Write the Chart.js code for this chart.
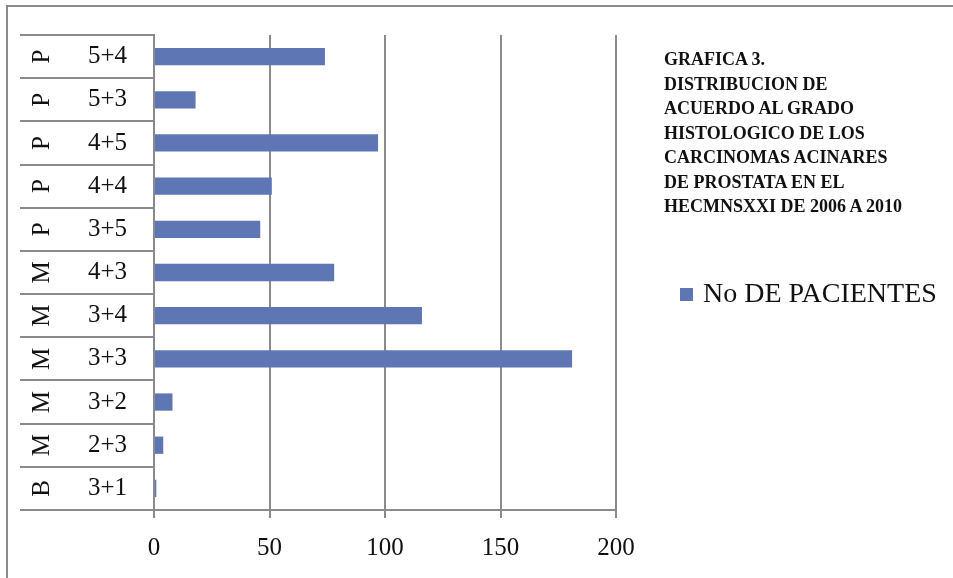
<!DOCTYPE html>
<html>
<head>
<meta charset="utf-8">
<script src="https://cdn.jsdelivr.net/npm/chart.js@4"></script>
<style>
    body { margin: 0; background: #fff; }
    #wrap { position: relative; width: 953px; height: 578px; overflow: hidden; }
    #frame {
        position: absolute; left: 6px; top: 5px; width: 960px; height: 600px;
        border-top: 2px solid #8a8a8a; border-left: 2px solid #8a8a8a;
    }
    #chart { position: absolute; left: 0; top: 0; }
    #title {
        position: absolute; left: 664px; top: 47px;
        font-family: 'Liberation Serif', serif; font-weight: bold; font-size: 18px;
        line-height: 24.5px; color: #111;
    }
    #legend {
        position: absolute; left: 680px; top: 277px;
        font-family: 'Liberation Serif', serif; font-size: 28px; color: #111;
        white-space: nowrap;
    }
    #legend .box {
        display: inline-block; width: 13px; height: 13px; background: #5e76b4;
        margin-right: 10px; vertical-align: 1px;
    }
</style>
</head>
<body>
<div id="wrap">
    <div id="frame"></div>
    <canvas id="chart" width="953" height="578"></canvas>
    <div id="title">GRAFICA 3.<br>DISTRIBUCION DE<br>ACUERDO AL GRADO<br>HISTOLOGICO DE LOS<br>CARCINOMAS ACINARES<br>DE PROSTATA EN EL<br>HECMNSXXI DE 2006 A 2010</div>
    <div id="legend"><span class="box"></span>No DE PACIENTES</div>
</div>
<script>
const grades = ['5+4', '5+3', '4+5', '4+4', '3+5', '4+3', '3+4', '3+3', '3+2', '2+3', '3+1'];
const groups = ['P', 'P', 'P', 'P', 'P', 'M', 'M', 'M', 'M', 'M', 'B'];
const patients = [74, 18, 97, 51, 46, 78, 116, 181, 8, 4, 1];
const valueTicks = [0, 50, 100, 150, 200];

const lineColor = '#8a8a8a';
const serif = "'Liberation Serif', serif";

// outer level of the category axis (P / M / B), rotated like the original
const groupLabels = {
    id: 'groupLabels',
    afterDraw(chart) {
        const ctx = chart.ctx;
        const y = chart.scales.y;
        ctx.save();
        ctx.fillStyle = '#111';
        ctx.font = `25px ${serif}`;
        ctx.textAlign = 'center';
        ctx.textBaseline = 'middle';
        groups.forEach((g, i) => {
            const py = y.getPixelForValue(i);
            ctx.save();
            ctx.translate(42, py);
            ctx.rotate(-Math.PI / 2);
            ctx.fillText(g, 0, 0);
            ctx.restore();
        });
        ctx.restore();
    },
};

new Chart(document.getElementById('chart'), {
    type: 'bar',
    data: {
        labels: grades,
        datasets: [{
            label: 'No DE PACIENTES',
            data: patients,
            backgroundColor: '#5e76b4',
            borderWidth: 0,
            categoryPercentage: 1,
            barPercentage: 0.4,
        }],
    },
    options: {
        indexAxis: 'y',
        responsive: false,
        animation: false,
        layout: { padding: { top: 35, right: 337, left: 0, bottom: 0 } },
        plugins: {
            legend: { display: false },
            tooltip: { enabled: false },
        },
        scales: {
            x: {
                min: 0,
                max: 200,
                afterBuildTicks: (scale) => { scale.ticks = valueTicks.map(v => ({ value: v })); },
                afterFit: (scale) => { scale.height = 68; },
                grid: { color: lineColor, lineWidth: 2, tickLength: 8 },
                border: { color: lineColor, width: 2 },
                ticks: { color: '#111', font: { family: serif, size: 25 }, padding: 15, maxRotation: 0 },
            },
            y: {
                afterFit: (scale) => { scale.width = 154; },
                grid: {
                    offset: true,
                    drawOnChartArea: false,
                    color: lineColor,
                    lineWidth: 2,
                    tickLength: 134,
                },
                border: { color: lineColor, width: 2 },
                ticks: { color: '#111', font: { family: serif, size: 25 }, padding: -107 },
            },
        },
    },
    plugins: [groupLabels],
});
</script>
</body>
</html>
